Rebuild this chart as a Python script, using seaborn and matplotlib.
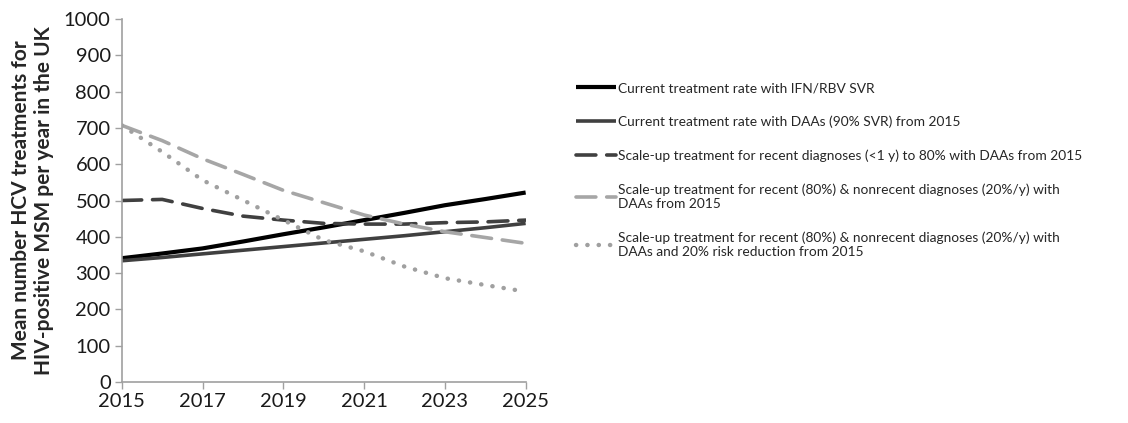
import numpy as np
import pandas as pd
import matplotlib
matplotlib.use("Agg")
import matplotlib.pyplot as plt
import seaborn as sns

# data
years = [2015, 2016, 2017, 2018, 2019, 2020, 2021, 2022, 2023, 2024, 2025]
ifn_current = [341, 354, 368, 387, 407, 426, 446, 466, 487, 504, 522]
daa_current = [334, 343, 353, 363, 373, 383, 393, 403, 414, 425, 437]
scaleup_recent = [500, 503, 478, 457, 446, 437, 435, 435, 439, 441, 446]
scaleup_all = [707, 665, 615, 572, 528, 494, 460, 435, 414, 398, 382]
scaleup_risk = [707, 634, 556, 501, 446, 391, 360, 318, 286, 267, 249]

labels = [
    "Current treatment rate with IFN/RBV SVR",
    "Current treatment rate with DAAs (90% SVR) from 2015",
    "Scale-up treatment for recent diagnoses (<1 y) to 80% with DAAs from 2015",
    "Scale-up treatment for recent (80%) & nonrecent diagnoses (20%/y) with\nDAAs from 2015",
    "Scale-up treatment for recent (80%) & nonrecent diagnoses (20%/y) with\nDAAs and 20% risk reduction from 2015",
]
series = [ifn_current, daa_current, scaleup_recent, scaleup_all, scaleup_risk]

# styles per series
line_colors = ["#000000", "#404040", "#404040", "#a6a6a6", "#a0a0a0"]
line_widths = [3.0, 2.6, 2.6, 2.6, 3.2]
line_styles = ["-", "-", (0, (5.5, 3)), (0, (5.5, 3)), (0, (0.05, 2.5))]

sns.set_theme(style="white")
plt.rcParams["font.family"] = ["Lato", "DejaVu Sans"]

fig = plt.figure(figsize=(11.28, 4.23), dpi=100)
ax = fig.add_axes([0.108, 0.097, 0.358, 0.858])

for vals, lab, col, lw, ls in zip(series, labels, line_colors, line_widths, line_styles):
    df = pd.DataFrame({"year": years, "value": vals})
    sns.lineplot(data=df, x="year", y="value", ax=ax, color=col, linewidth=lw,
                 linestyle=ls, label=lab, dash_capstyle="round",
                 solid_capstyle="butt")

ax.set_xlim(2015, 2025)
ax.set_ylim(0, 1000)
ax.set_xticks(range(2015, 2026, 2))
ax.set_yticks(range(0, 1001, 100))
ax.tick_params(axis="both", labelsize=14.5, labelcolor="#1a1a1a", length=5,
               width=1, direction="out", bottom=True, left=True,
               color="#a0a0a0", pad=3)
for side in ["top", "right"]:
    ax.spines[side].set_visible(False)
for side in ["left", "bottom"]:
    ax.spines[side].set_color("#a0a0a0")
    ax.spines[side].set_linewidth(1.2)

ax.set_xlabel("")
ax.set_ylabel("Mean number HCV treatments for\nHIV-positive MSM per year in the UK",
              fontsize=15, fontweight="bold", labelpad=7, linespacing=1.2)

leg = ax.legend(loc="upper left", bbox_to_anchor=(0.5, 0.835),
                bbox_transform=fig.transFigure, frameon=False, fontsize=9.9,
                handlelength=2.9, handletextpad=0.15, labelspacing=1.55)

fig.savefig("out.png", dpi=100)
